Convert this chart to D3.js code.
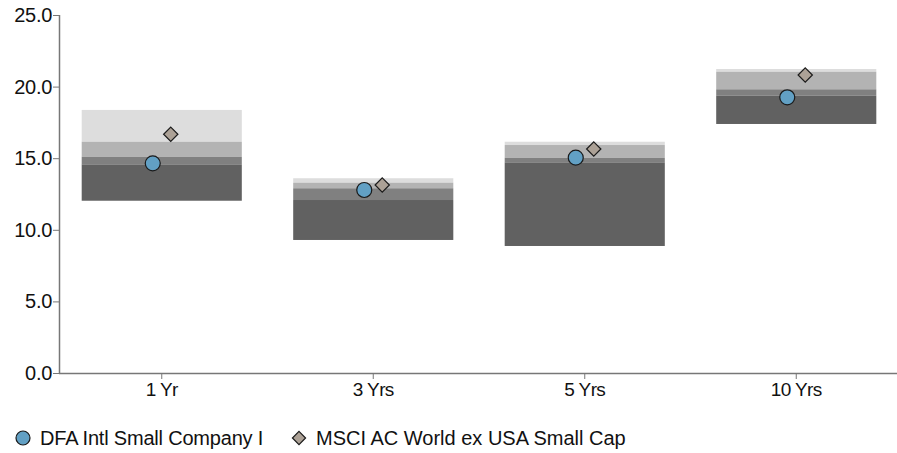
<!DOCTYPE html>
<html><head><meta charset="utf-8">
<script src="https://cdn.jsdelivr.net/npm/d3@7"></script>
<style>
html,body{margin:0;padding:0;background:#fff;}
svg{display:block;font-family:"Liberation Sans",Arial,sans-serif;}
</style></head>
<body><svg id="chart" width="897" height="453"></svg>
<script>
const categories = ["1 Yr", "3 Yrs", "5 Yrs", "10 Yrs"];
const bandTop    = [18.37, 13.60, 16.15, 21.23];
const band25     = [16.15, 13.29, 15.92, 21.04];
const bandMedian = [15.10, 12.90, 15.03, 19.81];
const band75     = [14.57, 12.08, 14.71, 19.36];
const bandBottom = [12.03, 9.29, 8.87, 17.39];
const fundValues  = [14.64, 12.78, 15.04, 19.25];
const indexValues = [16.67, 13.13, 15.64, 20.81];
const yTicks = [0, 5, 10, 15, 20, 25];
const seriesNames = ["DFA Intl Small Company I", "MSCI AC World ex USA Small Cap"];

const svg = d3.select("#chart");
const y = d3.scaleLinear().domain([0, 25]).range([373, 15]);
const x = d3.scaleBand().domain(categories).range([56, 902]).paddingInner(0.243).paddingOuter(0.1215);

const bandColors = ["#dddddd", "#b3b3b3", "#808080", "#616161"];
const edges = [bandTop, band25, bandMedian, band75, bandBottom];

categories.forEach((c, i) => {
  for (let k = 0; k < 4; k++) {
    const hi = edges[k][i], lo = edges[k + 1][i];
    svg.append("rect")
      .attr("x", x(c)).attr("width", x.bandwidth())
      .attr("y", y(hi)).attr("height", y(lo) - y(hi))
      .attr("fill", bandColors[k]);
  }
});

// axes
const axisColor = "#777";
const yAxis = svg.append("g").attr("transform", "translate(59,0)")
  .call(d3.axisLeft(y).tickValues(yTicks).tickFormat(d3.format(".1f")).tickSize(6).tickPadding(1));
const xAxis = svg.append("g").attr("transform", "translate(0,373)")
  .call(d3.axisBottom(x).tickSize(6).tickSizeOuter(0).tickPadding(4));
[yAxis, xAxis].forEach(g => {
  g.select(".domain").attr("stroke", axisColor).attr("stroke-width", 1.5);
  g.selectAll(".tick line").attr("stroke", axisColor);
  g.selectAll("text").attr("fill", "#111").style("font-size", "19px").style("font-family", "'Liberation Sans', Arial, sans-serif");
});
yAxis.selectAll("text").style("font-size", "20px").style("letter-spacing", "-0.3px");
xAxis.selectAll("text").style("letter-spacing", "-0.6px");
yAxis.select(".domain").attr("d", "M0.5,15V373.5");
xAxis.select(".domain").attr("d", "M59,0.5H897");

const circleFill = "#62a0c4", diamondFill = "#aca196", markStroke = "#1a1a1a";
const sym = d3.symbol().type(d3.symbolDiamond2).size(130);

categories.forEach((c, i) => {
  const cx = x(c) + x.bandwidth() / 2;
  svg.append("circle").attr("cx", cx - 9).attr("cy", y(fundValues[i])).attr("r", 7.5)
    .attr("fill", circleFill).attr("stroke", markStroke).attr("stroke-width", 1.2);
  svg.append("path").attr("d", sym).attr("transform", `translate(${cx + 9},${y(indexValues[i])})`)
    .attr("fill", diamondFill).attr("stroke", markStroke).attr("stroke-width", 1.2);
});

// legend
const leg = svg.append("g");
leg.append("circle").attr("cx", 23).attr("cy", 438).attr("r", 7)
  .attr("fill", circleFill).attr("stroke", markStroke).attr("stroke-width", 1.2);
leg.append("text").attr("x", 40).attr("y", 445).text(seriesNames[0])
  .style("font-size", "20px").style("letter-spacing", "-0.2px").attr("fill", "#111");
leg.append("path").attr("d", d3.symbol().type(d3.symbolDiamond2).size(110))
  .attr("transform", "translate(299,438)")
  .attr("fill", diamondFill).attr("stroke", markStroke).attr("stroke-width", 1.2);
leg.append("text").attr("x", 316).attr("y", 445).text(seriesNames[1])
  .style("font-size", "20px").attr("fill", "#111");
</script>
</body></html>
